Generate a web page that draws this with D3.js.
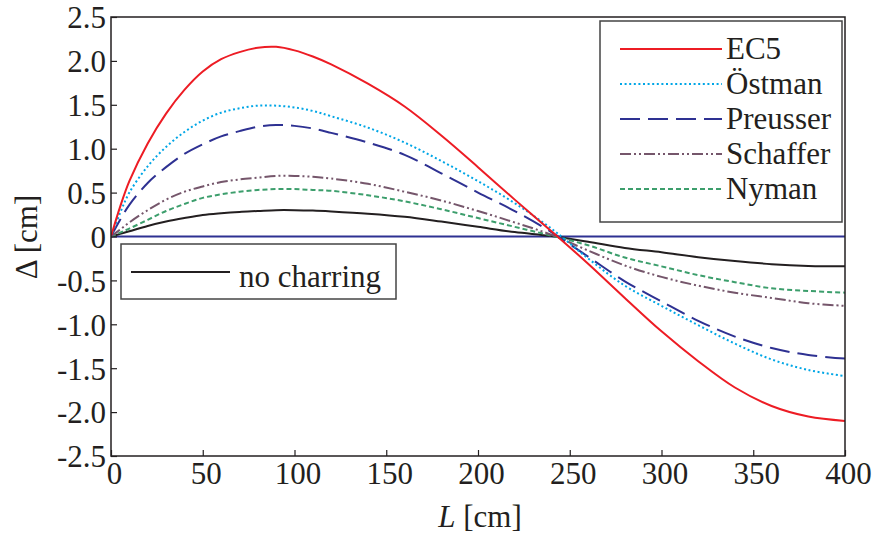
<!DOCTYPE html>
<html>
<head>
<meta charset="utf-8">
<script src="https://cdn.jsdelivr.net/npm/d3@7"></script>
<style>
  body { margin: 0; background: #fff; }
</style>
</head>
<body>
<div id="chart"></div>
<script>
// L positions along the beam [cm]
const L = [0, 5, 10, 20, 30, 40, 50, 60, 70, 80, 90, 100, 110, 120, 140, 160, 180, 200, 220, 240, 260, 280, 300, 320, 340, 360, 380, 400];

// deflection per model [cm]
const ec5 = [0, 0.34, 0.63, 1.06, 1.40, 1.67, 1.88, 2.02, 2.10, 2.15, 2.16, 2.12, 2.05, 1.96, 1.74, 1.48, 1.15, 0.79, 0.42, 0.06, -0.31, -0.70, -1.08, -1.42, -1.72, -1.93, -2.05, -2.10];
const ostman = [0, 0.27, 0.50, 0.80, 1.02, 1.19, 1.32, 1.41, 1.46, 1.49, 1.49, 1.47, 1.43, 1.37, 1.24, 1.07, 0.86, 0.63, 0.38, 0.09, -0.25, -0.56, -0.79, -1.01, -1.22, -1.40, -1.52, -1.59];
const preusser = [0, 0.19, 0.36, 0.61, 0.79, 0.94, 1.05, 1.14, 1.20, 1.25, 1.27, 1.26, 1.23, 1.18, 1.07, 0.93, 0.72, 0.50, 0.29, 0.05, -0.23, -0.51, -0.74, -0.96, -1.14, -1.27, -1.35, -1.39];
const schaffer = [0, 0.08, 0.16, 0.30, 0.42, 0.51, 0.57, 0.62, 0.65, 0.67, 0.69, 0.69, 0.68, 0.66, 0.60, 0.51, 0.41, 0.29, 0.16, 0.02, -0.16, -0.33, -0.46, -0.56, -0.64, -0.70, -0.76, -0.79];
const nyman = [0, 0.045, 0.09, 0.19, 0.29, 0.37, 0.44, 0.48, 0.51, 0.53, 0.54, 0.54, 0.53, 0.52, 0.47, 0.40, 0.31, 0.21, 0.11, 0.01, -0.10, -0.24, -0.34, -0.44, -0.52, -0.59, -0.62, -0.64];
const noCharring = [0, 0.03, 0.06, 0.12, 0.17, 0.21, 0.245, 0.265, 0.28, 0.29, 0.30, 0.30, 0.295, 0.285, 0.26, 0.225, 0.17, 0.11, 0.05, 0.005, -0.06, -0.13, -0.18, -0.235, -0.28, -0.315, -0.335, -0.34];

const xTicks = [0, 50, 100, 150, 200, 250, 300, 350, 400];
const yTicks = [2.5, 2.0, 1.5, 1.0, 0.5, 0, -0.5, -1.0, -1.5, -2.0, -2.5];

const series = [
    {name: "EC5", values: ec5, color: "#ed1c24", dash: null},
    {name: "Östman", values: ostman, color: "#00a6e6", dash: "2,2.6"},
    {name: "Preusser", values: preusser, color: "#2e3192", dash: "20,8"},
    {name: "Schaffer", values: schaffer, color: "#75566b", dash: "11,3,2,3,2,3"},
    {name: "Nyman", values: nyman, color: "#3c9e6c", dash: "5,3"}
];

const FONT = "Liberation Serif";
const INK = "#231f20";

var margin = {top: 17, right: 32, bottom: 80, left: 111},
    width = 845 - margin.left,
    height = 456 - margin.top;

let svg = d3.select("#chart")
    .append("svg")
    .attr("width", 877)
    .attr("height", 536)
    .attr("font-family", FONT)
    .append("g")
    .attr("transform", "translate(" + margin.left + "," + margin.top + ")");

var x = d3.scaleLinear().domain([0, 400]).range([0, width]);
var y = d3.scaleLinear().domain([-2.5, 2.5]).range([height, 0]);

svg.append("clipPath").attr("id", "clip")
    .append("rect").attr("width", width).attr("height", height);

// zero line
svg.append("line")
    .attr("x1", 0).attr("x2", width)
    .attr("y1", y(0)).attr("y2", y(0))
    .attr("stroke", "#2e3192")
    .attr("stroke-width", 2);

const line = d3.line()
    .x((d) => x(d[0]))
    .y((d) => y(d[1]))
    .curve(d3.curveCatmullRom.alpha(0.5));

const plotG = svg.append("g").attr("clip-path", "url(#clip)");

plotG.append("path")
    .datum(L.map((l, i) => [l, noCharring[i]]))
    .attr("d", line)
    .attr("fill", "none")
    .attr("stroke", INK)
    .attr("stroke-width", 2);

series.slice().reverse().forEach(function(s) {
    plotG.append("path")
        .datum(L.map((l, i) => [l, s.values[i]]))
        .attr("d", line)
        .attr("fill", "none")
        .attr("stroke", s.color)
        .attr("stroke-width", 2)
        .attr("stroke-dasharray", s.dash);
});

// frame
svg.append("rect")
    .attr("width", width).attr("height", height)
    .attr("fill", "none")
    .attr("stroke", INK)
    .attr("stroke-width", 1.5);

// X axis
let xAxis = svg.append("g")
    .attr("transform", "translate(0," + height + ")")
    .call(d3.axisBottom(x).tickValues(xTicks).tickSize(-6).tickFormat(d3.format("d")));
xAxis.attr("font-family", FONT).attr("font-size", 31);
xAxis.select(".domain").remove();
xAxis.selectAll("line").attr("stroke", INK).attr("stroke-width", 1.2);
xAxis.selectAll("text")
    .attr("y", 28)
    .attr("dy", 0)
    .attr("dx", 3)
    .attr("font-family", FONT)
    .attr("font-size", 31)
    .attr("fill", INK);

// Y axis
let yAxis = svg.append("g")
    .call(d3.axisLeft(y).tickValues(yTicks).tickSize(-6)
        .tickFormat((d) => d == 0 ? "0" : d3.format(".1f")(d).replace("−", "-")));
yAxis.attr("font-family", FONT).attr("font-size", 31);
yAxis.select(".domain").remove();
yAxis.selectAll("line").attr("stroke", INK).attr("stroke-width", 1.2);
yAxis.selectAll("text")
    .attr("x", -5)
    .attr("dy", "0.35em")
    .attr("font-family", FONT)
    .attr("font-size", 31)
    .attr("fill", INK);

// X axis label
let xl = svg.append("text")
    .attr("text-anchor", "middle")
    .attr("x", width / 2 + 2)
    .attr("y", 527 - margin.top)
    .attr("font-family", FONT)
    .attr("font-size", 31)
    .attr("fill", INK);
xl.append("tspan").attr("font-style", "italic").text("L");
xl.append("tspan").text(" [cm]");

// Y axis label
svg.append("text")
    .attr("text-anchor", "middle")
    .attr("transform", "rotate(-90)")
    .attr("x", -(237 - margin.top))
    .attr("y", 37 - margin.left)
    .attr("font-family", FONT)
    .attr("font-size", 31)
    .attr("fill", INK)
    .text("Δ [cm]");

// Legend (models)
let leg = svg.append("g").attr("transform", "translate(" + (600 - margin.left) + "," + (21 - margin.top) + ")");
leg.append("rect")
    .attr("width", 242).attr("height", 201)
    .attr("fill", "#fff")
    .attr("stroke", "#444")
    .attr("stroke-width", 1.5);
series.forEach(function(s, i) {
    let ly = 28 + i * 35;
    leg.append("line")
        .attr("x1", 20).attr("x2", 122)
        .attr("y1", ly).attr("y2", ly)
        .attr("stroke", s.color)
        .attr("stroke-width", 2)
        .attr("stroke-dasharray", s.dash);
    leg.append("text")
        .attr("x", 126)
        .attr("y", ly + 10)
        .attr("font-family", FONT)
        .attr("font-size", 31)
        .attr("fill", INK)
        .text(s.name);
});

// Legend (no charring)
let leg2 = svg.append("g").attr("transform", "translate(" + (121 - margin.left) + "," + (244 - margin.top) + ")");
leg2.append("rect")
    .attr("width", 275).attr("height", 55)
    .attr("fill", "#fff")
    .attr("stroke", "#444")
    .attr("stroke-width", 1.5);
leg2.append("line")
    .attr("x1", 10).attr("x2", 109)
    .attr("y1", 28).attr("y2", 28)
    .attr("stroke", INK)
    .attr("stroke-width", 2);
leg2.append("text")
    .attr("x", 118)
    .attr("y", 43)
    .attr("font-family", FONT)
    .attr("font-size", 31)
    .attr("fill", INK)
    .text("no charring");
</script>
</body>
</html>
